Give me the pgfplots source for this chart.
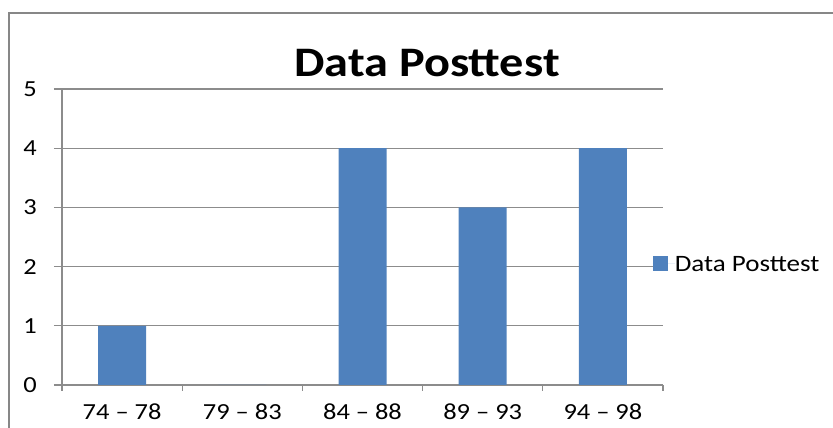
\documentclass[border=0pt]{standalone}
\usepackage{fontspec}
\setmainfont{Carlito}[FakeStretch=1.15]
\usepackage{pgfplots}
\pgfplotsset{compat=1.18}
\definecolor{barblue}{HTML}{4F81BD}
\definecolor{axgray}{HTML}{8C8C8C}
\definecolor{framegray}{HTML}{878787}
\begin{document}
\begin{tikzpicture}[x=1pt,y=1pt]
\useasboundingbox (0,0) rectangle (833,428);
\draw[framegray, line width=2pt] (9,0) -- (9,415) -- (833,415);
\begin{axis}[
  at={(62pt,43pt)}, anchor=south west,
  width=601pt, height=296pt, scale only axis,
  xmin=-0.5, xmax=4.5, ymin=0, ymax=5,
  axis x line*=bottom, axis y line*=left,
  axis line style={axgray, line width=1.3pt, -},
  ytick={0,1,2,3,4,5},
  xtick={0,1,2,3,4},
  xticklabels={74 -- 78, 79 -- 83, 84 -- 88, 89 -- 93, 94 -- 98},
  minor xtick={-0.5,0.5,1.5,2.5,3.5,4.5},
  tick align=outside,
  major tick length=8pt,
  minor tick length=6pt,
  major x tick style={draw=none},
  minor x tick style={axgray, line width=1.3pt},
  ytick style={axgray, line width=1.3pt},
  ymajorgrids,
  grid style={axgray, line width=1.3pt},
  /pgf/number format/assume math mode=true,
  ticklabel style={font=\fontsize{23}{27}\selectfont, text=black},
  yticklabel style={anchor=east, inner sep=0pt, xshift=-17pt},
  xticklabel style={anchor=base, inner sep=0pt, text depth=0pt, yshift=-27pt},
  ybar, bar width=48pt,
  legend style={at={(0.983,0.409)}, anchor=west, draw=none, fill=none,
    inner sep=0pt, outer sep=0pt, font=\fontsize{23.5}{27}\selectfont,
    nodes={inner sep=0pt, text depth=0pt}},
  legend cell align=left,
  legend image code/.code={\fill[barblue] (0pt,-7.5pt) rectangle (15pt,7.5pt); \path (0pt,0pt) -- (22pt,0pt);},
]
\addplot[fill=barblue, draw=none] coordinates {(0,1) (1,0) (2,4) (3,3) (4,4)};
\addlegendentry{Data Posttest}
\end{axis}
\node[anchor=base, font=\bfseries\fontsize{42}{48}\selectfont] at (427,351) {Data Posttest};
\end{tikzpicture}
\end{document}
